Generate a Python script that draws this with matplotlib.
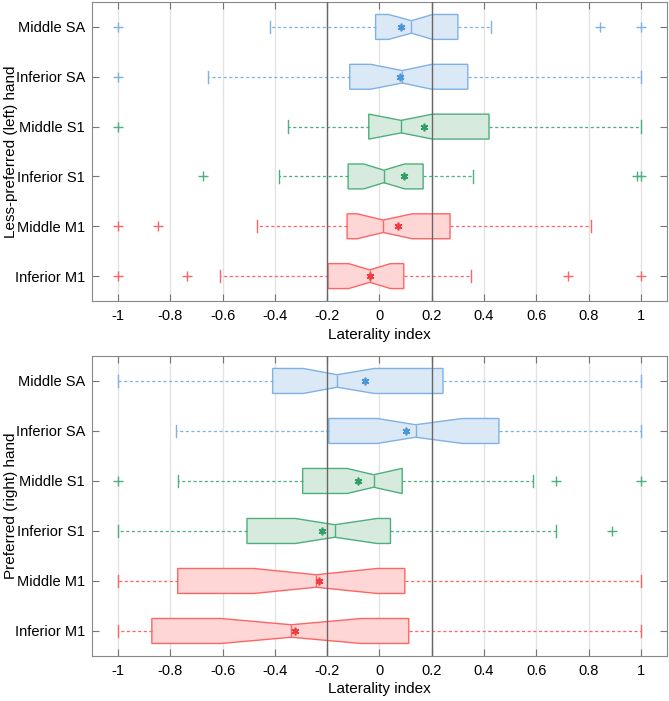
import numpy as np
import matplotlib.pyplot as plt

plt.rcParams['font.family'] = ['Liberation Sans', 'DejaVu Sans']
plt.rcParams['font.size'] = 10.5
plt.rcParams['axes.unicode_minus'] = False

# rows from bottom to top
regions = ['Inferior M1', 'Middle M1', 'Inferior S1', 'Middle S1', 'Inferior SA', 'Middle SA']
row_colors = ['red', 'red', 'green', 'green', 'blue', 'blue']
xticks = [-1, -0.8, -0.6, -0.4, -0.2, 0, 0.2, 0.4, 0.6, 0.8, 1]
xticklabels = ['-1', '-0.8', '-0.6', '-0.4', '-0.2', '0', '0.2', '0.4', '0.6', '0.8', '1']

# less-preferred (left) hand
left_whislo = [-0.612, -0.469, -0.383, -0.351, -0.658, -0.42]
left_q1 = [-0.197, -0.124, -0.12, -0.041, -0.114, -0.015]
left_cilo = [-0.118, -0.085, -0.06, -0.04, -0.034, 0.035]
left_med = [-0.037, 0.014, 0.017, 0.083, 0.087, 0.122]
left_cihi = [0.042, 0.125, 0.096, 0.202, 0.2, 0.203]
left_q3 = [0.093, 0.27, 0.167, 0.419, 0.338, 0.30]
left_whishi = [0.351, 0.811, 0.356, 1.0, 1.0, 0.426]
left_mean = [-0.037, 0.072, 0.093, 0.17, 0.078, 0.084]
left_fliers = [[-1, -0.735, 0.722, 1.0], [-1, -0.848], [-0.676, 0.987, 1.0],
               [-1], [-1], [-1, 0.843, 1.0]]

# preferred (right) hand
right_whislo = [-1, -1, -1, -0.769, -0.778, -1]
right_q1 = [-0.871, -0.772, -0.507, -0.294, -0.194, -0.409]
right_cilo = [-0.607, -0.481, -0.322, -0.124, -0.009, -0.292]
right_med = [-0.338, -0.243, -0.171, -0.022, 0.138, -0.162]
right_cihi = [-0.069, -0.009, -0.009, 0.085, 0.317, -0.02]
right_q3 = [0.112, 0.097, 0.042, 0.087, 0.457, 0.243]
right_whishi = [1.0, 1.0, 0.674, 0.588, 1.0, 1.0]
right_mean = [-0.322, -0.23, -0.22, -0.082, 0.103, -0.057]
right_fliers = [[], [], [0.888], [-1, 0.675, 1.0], [], []]

edge = {'blue': '#7fb2e3', 'green': '#4caf7d', 'red': '#ff6464'}
fill = {'blue': (0.86, 0.91, 0.96), 'green': (0.84, 0.92, 0.87), 'red': (1.0, 0.84, 0.84)}
mean_col = {'blue': '#4a96d6', 'green': '#2e9e62', 'red': '#f03c3c'}


def draw_panel(ax, whislo, q1, cilo, med, cihi, q3, whishi, mean, fliers, ylab):
    for i in range(len(regions)):
        c = row_colors[i]
        st = dict(whislo=whislo[i], q1=q1[i], cilo=cilo[i], med=med[i], cihi=cihi[i],
                  q3=q3[i], whishi=whishi[i], mean=mean[i], fliers=np.array(fliers[i]))
        ax.bxp([st], positions=[i + 1], widths=0.5, orientation='horizontal',
               shownotches=True, showmeans=True, patch_artist=True,
               boxprops=dict(facecolor=fill[c], edgecolor=edge[c], linewidth=1),
               medianprops=dict(color=edge[c], linewidth=1),
               whiskerprops=dict(color=edge[c], linestyle=(0, (2.5, 2)), linewidth=0.9),
               capprops=dict(color=edge[c], linewidth=1),
               flierprops=dict(marker='+', markeredgecolor=edge[c], markersize=7,
                               markeredgewidth=1, linestyle='none'),
               meanprops=dict(marker=(6, 2, 0), markeredgecolor=mean_col[c],
                              markersize=5.5, markeredgewidth=1.2, linestyle='none'),
               manage_ticks=False)
    ax.axvline(-0.2, color='#666666', lw=1, zorder=5)
    ax.axvline(0.2, color='#666666', lw=1, zorder=5)
    ax.set_xlim(-1.1, 1.1)
    ax.set_ylim(0.5, 6.5)
    ax.set_xticks(xticks)
    ax.set_xticklabels(xticklabels)
    ax.set_yticks(np.arange(1, len(regions) + 1))
    ax.set_yticklabels(regions)
    ax.grid(axis='x', color='#e3e3e3', lw=1)
    ax.set_axisbelow(True)
    ax.tick_params(direction='in', top=True, right=True, length=5, color='#777777',
                   labelsize=10.5)
    ax.tick_params(axis='x', pad=6)
    ax.tick_params(axis='y', pad=5)
    for s in ax.spines.values():
        s.set_color('#888888')
    ax.set_xlabel('Laterality index', fontsize=11, labelpad=3)
    ax.set_ylabel(ylab, fontsize=11)
    ax.yaxis.set_label_coords(-0.14, 0.5)
    ax.yaxis.label.set_va('center')


fig = plt.figure(figsize=(6.69, 7.01), dpi=100)
ax1 = fig.add_axes([0.1375, 0.5706, 0.8595, 0.4265])
ax2 = fig.add_axes([0.1375, 0.0642, 0.8595, 0.428])

draw_panel(ax1, left_whislo, left_q1, left_cilo, left_med, left_cihi, left_q3,
           left_whishi, left_mean, left_fliers, 'Less-preferred (left) hand')
draw_panel(ax2, right_whislo, right_q1, right_cilo, right_med, right_cihi, right_q3,
           right_whishi, right_mean, right_fliers, 'Preferred (right) hand')

fig.savefig('out.png', dpi=100)
